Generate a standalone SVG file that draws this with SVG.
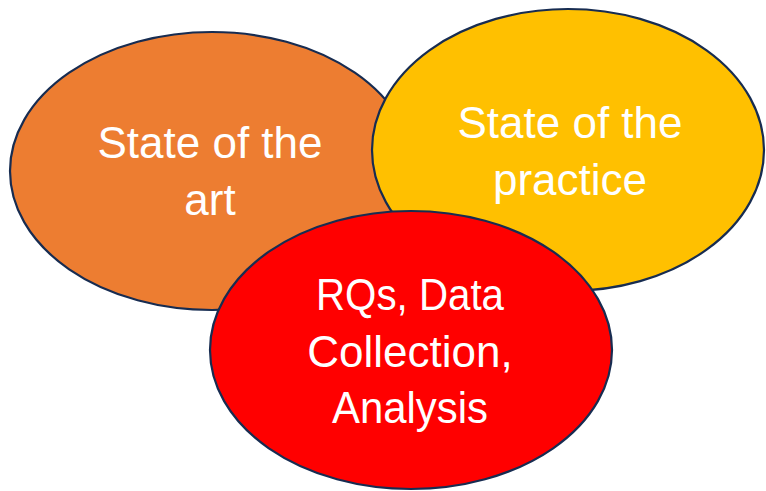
<svg xmlns="http://www.w3.org/2000/svg" width="766" height="491" viewBox="0 0 766 491">
<style>
.e{stroke:#172C51;stroke-width:2.2}
.t{fill:#FFFFFF;font-family:"Liberation Sans",Arial,sans-serif;font-size:44px;text-anchor:middle}
</style>
<rect width="766" height="491" fill="#FFFFFF"/>
<g id="art">
<ellipse class="e" cx="212" cy="171" rx="202" ry="139" fill="#ED7D31"/>
<text class="t" x="210" y="158">State of the</text>
<text class="t" x="210" y="215">art</text>
</g>
<g id="practice">
<ellipse class="e" cx="568" cy="150" rx="196" ry="141" fill="#FFC000"/>
<text class="t" x="570" y="138">State of the</text>
<text class="t" x="570" y="195">practice</text>
</g>
<g id="rqs">
<ellipse class="e" cx="411" cy="350" rx="201" ry="139" fill="#FF0000"/>
<text class="t" x="410" y="310" textLength="188" lengthAdjust="spacingAndGlyphs">RQs, Data</text>
<text class="t" x="410" y="367">Collection,</text>
<text class="t" x="410" y="423" textLength="156" lengthAdjust="spacingAndGlyphs">Analysis</text>
</g>
<g id="connectors"/>
</svg>
